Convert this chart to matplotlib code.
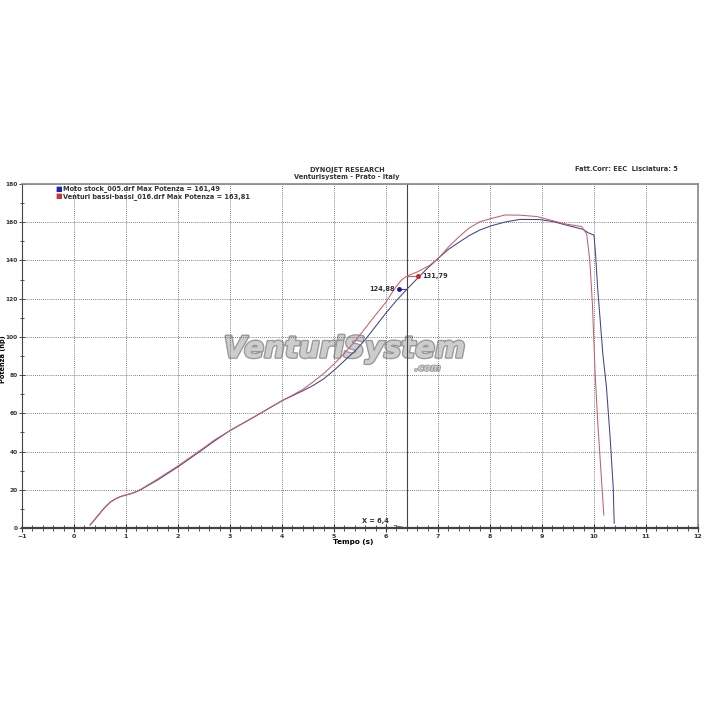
import matplotlib
matplotlib.use("Agg")
import matplotlib.pyplot as plt
import matplotlib.patheffects as pe
import numpy as np

# data
time_stock = [0.31, 0.4, 0.5, 0.6, 0.7, 0.8, 0.9, 1.0, 1.1, 1.2, 1.3, 1.6, 2.0, 2.42, 2.7, 3.0, 3.45,
              4.0, 4.2, 4.4, 4.6, 4.8, 5.0, 5.2, 5.4, 5.6, 5.8, 6.0, 6.2, 6.4, 6.6, 6.8, 7.0, 7.2,
              7.42, 7.6, 7.81, 8.03, 8.32, 8.58, 8.96, 9.22, 9.47, 9.79, 9.89, 10.0, 10.03, 10.07,
              10.12, 10.17, 10.24, 10.31, 10.37, 10.39]
power_stock = [1.6, 4.5, 7.8, 11.0, 13.6, 15.3, 16.5, 17.3, 18.0, 19.0, 20.3, 25.0, 32.0, 40.0, 45.5, 51.0, 57.9,
               66.6, 69.2, 71.8, 74.6, 78.0, 82.5, 87.5, 92.5, 98.5, 105.5, 112.5, 119.0, 124.88, 130.5, 136.0, 141.0, 145.8,
               149.8, 153.0, 156.0, 158.2, 160.3, 161.49, 161.4, 160.3, 158.5, 156.3, 154.5, 153.3, 143.7, 126.0,
               108.8, 91.4, 73.9, 47.8, 21.6, 2.5]

time_venturi = [0.31, 0.4, 0.5, 0.6, 0.7, 0.8, 0.9, 1.0, 1.1, 1.2, 1.3, 1.6, 2.0, 2.42, 2.7, 3.0, 3.45,
                4.0, 4.2, 4.4, 4.6, 4.8, 5.0, 5.2, 5.4, 5.6, 5.8, 6.0, 6.1, 6.2, 6.3, 6.4, 6.6, 6.85,
                7.04, 7.2, 7.42, 7.6, 7.81, 8.03, 8.29, 8.58, 8.9, 9.15, 9.47, 9.76, 9.86, 9.92, 9.97,
                9.99, 10.02, 10.07, 10.15, 10.19]
power_venturi = [1.6, 4.5, 7.8, 11.0, 13.6, 15.3, 16.5, 17.3, 18.0, 19.1, 20.5, 25.5, 32.5, 40.5, 46.0, 51.0, 57.9,
                 66.6, 69.5, 72.5, 76.5, 80.8, 85.8, 91.5, 97.5, 104.5, 111.5, 118.2, 122.5, 126.5, 129.8, 131.79, 134.0, 137.6,
                 142.0, 147.0, 152.8, 157.0, 160.3, 162.0, 163.81, 163.7, 163.0, 161.2, 159.0, 157.8, 154.0, 140.0, 117.6,
                 103.6, 82.7, 56.5, 23.4, 6.8]

cursor_x = 6.4
cursor_stock = 124.88
cursor_venturi = 131.79

blue = "#42428e"
red = "#c4606a"

fig = plt.figure(figsize=(7.1, 7.1), dpi=100)
ax = fig.add_axes([0.031, 0.2563, 0.952, 0.4845])

ax.plot(time_stock, power_stock, color=blue, lw=0.75, zorder=3)
ax.plot(time_venturi, power_venturi, color=red, lw=0.75, zorder=3)

ax.set_xlim(-1, 12)
ax.set_ylim(0, 180)
ax.set_xticks(range(-1, 13))
ax.set_yticks(range(0, 181, 20))
ax.set_xticks(np.arange(-1, 12.01, 0.2), minor=True)
ax.set_yticks(range(0, 181, 10), minor=True)
ax.grid(True, which="major", linestyle=(0, (1, 1.5)), color="#555555", lw=0.6)
ax.tick_params(axis="both", which="both", direction="inout", labelsize=4.5, colors="#333333")
ax.tick_params(axis="x", which="major", length=6, width=0.8, pad=1)
ax.tick_params(axis="x", which="minor", length=4, width=0.6)
ax.tick_params(axis="y", which="major", length=5, width=0.6, pad=0.5, labelsize=4.2)
ax.tick_params(axis="y", which="minor", length=3, width=0.6)
for lab in ax.get_xticklabels() + ax.get_yticklabels():
    lab.set_fontweight("bold")
ax.spines["bottom"].set_linewidth(1.6)
ax.spines["bottom"].set_color("#444444")
ax.spines["left"].set_color("#444444")
ax.spines["top"].set_color("#888888")
ax.spines["right"].set_color("#888888")
ax.spines["top"].set_linewidth(1.2)
ax.spines["right"].set_linewidth(1.2)

ax.set_xlabel("Tempo (s)", fontsize=5.2, fontweight="bold", va="top")
ax.xaxis.set_label_coords(0.49, -0.031)
ax.set_ylabel("Potenza (hp)", fontsize=4.8, fontweight="bold")
ax.yaxis.set_label_coords(-0.0235, 0.49)

# cursor
ax.axvline(cursor_x, color="#444444", lw=0.8, zorder=2)
ax.plot([cursor_x - 0.15, cursor_x], [cursor_stock, cursor_stock], color=blue, lw=0.8)
ax.plot([cursor_x, cursor_x + 0.21], [cursor_venturi, cursor_venturi], color=red, lw=0.8)
ax.plot(cursor_x - 0.15, cursor_stock, "o", color="#1a1aa0", ms=2.5, zorder=4)
ax.plot(cursor_x + 0.21, cursor_venturi, "o", color="#d02020", ms=2.5, zorder=4)
ax.text(cursor_x - 0.23, cursor_stock, "124,88", fontsize=4.8, fontweight="bold",
        ha="right", va="center", color="#333333")
ax.text(cursor_x + 0.29, cursor_venturi, "131,79", fontsize=4.8, fontweight="bold",
        ha="left", va="center", color="#333333")
ax.annotate("X = 6,4", xy=(cursor_x, 0), xytext=(6.05, 3.5), fontsize=4.8, fontweight="bold",
            ha="right", va="center", color="#333333",
            arrowprops=dict(arrowstyle="-", color="#555555", lw=0.6))

# legend
ax.text(-0.36, 177.4, "\u25a0", color="#2020c0", fontsize=5, va="center")
ax.text(-0.22, 177.4, "Moto stock_005.drf Max Potenza = 161,49", fontsize=4.8,
        fontweight="bold", va="center", color="#333333")
ax.text(-0.36, 173.6, "\u25a0", color="#d03030", fontsize=5, va="center")
ax.text(-0.22, 173.6, "Venturi bassi-bassi_016.drf Max Potenza = 163,81", fontsize=4.8,
        fontweight="bold", va="center", color="#333333")

# watermark
ax.text(5.2, 93.5, "VenturiSystem", fontsize=21, style="italic", fontweight="heavy",
        color="#cdcdcd", ha="center", va="center", zorder=1,
        path_effects=[pe.withStroke(linewidth=2.2, foreground="#9a9a9a"),
                      pe.Normal()])
ax.text(6.8, 83.8, ".com", fontsize=7, style="italic", fontweight="heavy",
        color="#cdcdcd", ha="center", va="center", zorder=1,
        path_effects=[pe.withStroke(linewidth=1.2, foreground="#9a9a9a")])

fig.text(0.489, 0.761, "DYNOJET RESEARCH", fontsize=4.8, fontweight="bold",
         ha="center", va="center", color="#333333")
fig.text(0.489, 0.751, "Venturisystem - Prato - Italy", fontsize=4.8, fontweight="bold",
         ha="center", va="center", color="#333333")
fig.text(0.955, 0.762, "Fatt.Corr: EEC  Lisciatura: 5", fontsize=4.8, fontweight="bold",
         ha="right", va="center", color="#333333")

fig.savefig("out.png", dpi=100)
